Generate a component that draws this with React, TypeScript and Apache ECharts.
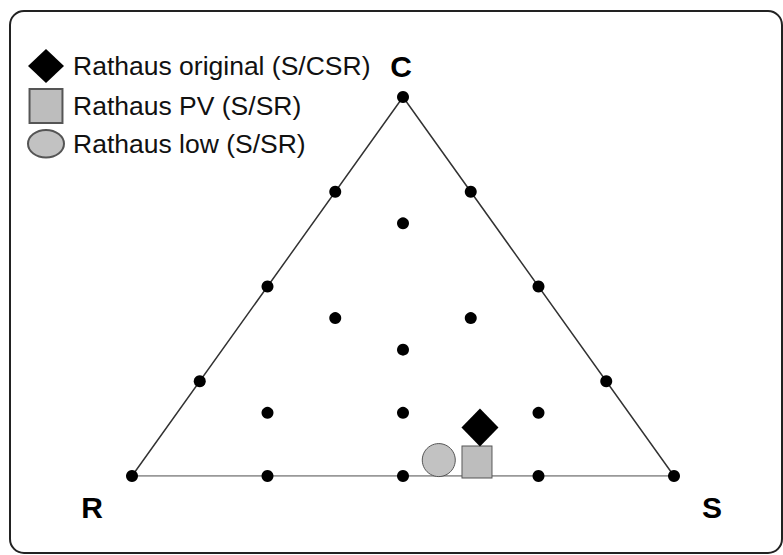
import React, { useEffect, useRef } from "react";
import * as echarts from "echarts";

// Ternary compositions given as [C, S, R]
const vertices: { name: string; v: [number, number, number] }[] = [
  { name: "C", v: [1, 0, 0] },
  { name: "S", v: [0, 1, 0] },
  { name: "R", v: [0, 0, 1] },
];

const gridPoints: [number, number, number][] = [
  [1, 0, 0],
  [0.75, 0, 0.25],
  [0.5, 0, 0.5],
  [0.25, 0, 0.75],
  [0, 0, 1],
  [0.75, 0.25, 0],
  [0.5, 0.5, 0],
  [0.25, 0.75, 0],
  [0, 1, 0],
  [0, 0.25, 0.75],
  [0, 0.5, 0.5],
  [0, 0.75, 0.25],
  [2 / 3, 1 / 6, 1 / 6],
  [5 / 12, 1 / 6, 5 / 12],
  [5 / 12, 5 / 12, 1 / 6],
  [1 / 3, 1 / 3, 1 / 3],
  [1 / 6, 1 / 6, 2 / 3],
  [1 / 6, 5 / 12, 5 / 12],
  [1 / 6, 2 / 3, 1 / 6],
];

const seriesNames = [
  "Rathaus original (S/CSR)",
  "Rathaus PV (S/SR)",
  "Rathaus low (S/SR)",
];
const rathausOriginal: [number, number, number] = [0.128, 0.578, 0.294];
const rathausPV: [number, number, number] = [0.037, 0.618, 0.345];
const rathausLow: [number, number, number] = [0.042, 0.545, 0.413];

// ternary -> cartesian (x runs R -> S, y is C share)
const toXY = (t: [number, number, number]): [number, number] => [
  t[1] + t[0] / 2,
  t[0],
];

const ellipsePath =
  "path://M0,13A17,13,0,1,0,34,13A17,13,0,1,0,0,13Z";

export default function App() {
  const ref = useRef<HTMLDivElement>(null);
  useEffect(() => {
    if (!ref.current) return;
    const chart = echarts.init(ref.current, undefined, { renderer: "svg" });
    const byName = (n: string) => vertices.find((v) => v.name === n)!.v;
    const R = toXY(byName("R"));
    const S = toXY(byName("S"));
    const C = toXY(byName("C"));
    const labelOffsets: Record<string, [number, number]> = {
      C: [-2, -31],
      R: [-40, 31],
      S: [38, 31],
    };
    chart.setOption({
      animation: false,
      backgroundColor: "#fff",
      grid: { left: 132, right: 109, top: 97, bottom: 79 },
      xAxis: { type: "value", min: 0, max: 1, show: false },
      yAxis: { type: "value", min: 0, max: 1, show: false },
      legend: {
        orient: "vertical",
        left: 22,
        top: 44,
        itemWidth: 36,
        itemHeight: 34,
        itemGap: 5,
        selectedMode: false,
        textStyle: {
          fontSize: 26.5,
          fontFamily: "Liberation Sans, Arial, sans-serif",
          color: "#111",
          padding: [0, 0, 0, 4],
        },
        data: [
          { name: seriesNames[0], icon: "diamond" },
          { name: seriesNames[1], icon: "path://M0,0H31V32H0Z" },
          { name: seriesNames[2], icon: ellipsePath },
        ],
      },
      graphic: [
        {
          type: "rect",
          shape: { x: 10, y: 11, width: 772, height: 542, r: 14 },
          style: { fill: "none", stroke: "#222", lineWidth: 2 },
          silent: true,
          z: 0,
        },
      ],
      series: [
        {
          type: "line",
          data: [R, C, S],
          symbol: "none",
          lineStyle: { color: "#333", width: 1.5 },
          silent: true,
          z: 1,
        },
        {
          type: "line",
          data: [R, S],
          symbol: "none",
          lineStyle: { color: "#777", width: 1.5 },
          silent: true,
          z: 1,
        },
        {
          type: "scatter",
          data: gridPoints.map(toXY),
          symbol: "circle",
          symbolSize: 12,
          itemStyle: { color: "#000", opacity: 1 },
          clip: false,
          silent: true,
          z: 2,
        },
        {
          type: "scatter",
          data: vertices.map((v) => ({
            name: v.name,
            value: toXY(v.v),
            label: {
              show: true,
              position: "inside",
              offset: labelOffsets[v.name],
              formatter: "{b}",
              fontSize: 30,
              fontWeight: "bold",
              fontFamily: "Liberation Sans, Arial, sans-serif",
              color: "#000",
            },
          })),
          symbolSize: 1,
          itemStyle: { color: "rgba(0,0,0,0)", opacity: 1 },
          clip: false,
          silent: true,
          z: 2,
        },
        {
          name: seriesNames[0],
          type: "scatter",
          data: [toXY(rathausOriginal)],
          symbol: "diamond",
          symbolSize: [37, 38],
          itemStyle: { color: "#000", opacity: 1 },
          clip: false,
          z: 5,
        },
        {
          name: seriesNames[1],
          type: "scatter",
          data: [toXY(rathausPV)],
          symbol: "rect",
          symbolSize: [30, 32],
          itemStyle: { color: "#bdbdbd", borderColor: "#555", borderWidth: 1, opacity: 1 },
          clip: false,
          z: 4,
        },
        {
          name: seriesNames[2],
          type: "scatter",
          data: [toXY(rathausLow)],
          symbol: "circle",
          symbolSize: 33,
          itemStyle: { color: "#c2c2c2", borderColor: "#555", borderWidth: 1, opacity: 1 },
          clip: false,
          z: 4,
        },
      ],
    });
    return () => chart.dispose();
  }, []);
  return (
    <div
      ref={ref}
      style={{ position: "fixed", left: 0, top: 0, width: 783, height: 555 }}
    />
  );
}
